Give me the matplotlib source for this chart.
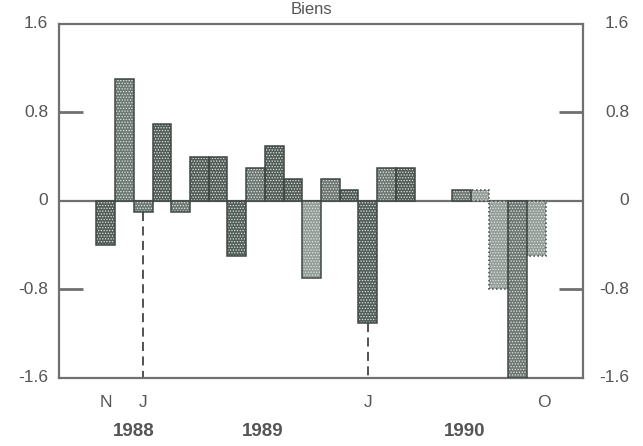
"""Biens: monthly bars, Nov 1987 onwards, with left/right value axes."""

import matplotlib
matplotlib.use("Agg")
import matplotlib.pyplot as plt

plt.rcParams["font.family"] = ["Liberation Sans", "DejaVu Sans"]
plt.rcParams["hatch.linewidth"] = 0.6

# --- data ---
values = [-0.4, 1.1, -0.1, 0.7, -0.1, 0.4, 0.4, -0.5, 0.3, 0.5, 0.2, -0.7,
          0.2, 0.1, -1.1, 0.3, 0.3, 0.0, 0.0, 0.1, 0.1, -0.8, -1.6, -0.5]
estimated = [20, 21, 23]                     # bars drawn with dotted outline
month_pos = [0, 2, 14, 23.4]
month_labels = ["N", "J", "J", "O"]
year_pos = [1.5, 8.4, 19.2]
year_labels = ["1988", "1989", "1990"]
y_ticks = [1.6, 0.8, 0, -0.8, -1.6]
y_labels = ["1.6", "0.8", "0", "-0.8", "-1.6"]
dashed_at = [2, 14]

# per-bar shade (0 = light, 1 = medium, 2 = dark)
shade = [2, 1, 1, 2, 1, 2, 2, 2, 1, 2, 2, 0, 1, 2, 2, 1, 2, 1, 1, 1, 0, 0, 1, 0]
palette = {0: "#939c97", 1: "#6d7772", 2: "#525c57"}
grey = "#707070"
text_col = "#555555"

fig = plt.figure(figsize=(6.43, 4.46), dpi=100)
ax = fig.add_axes([0.0918, 0.1525, 0.8149, 0.7937])

x = list(range(len(values)))
for i, v in zip(x, values):
    if v == 0:
        continue
    # fill with fine light dots
    ax.bar(i, v, width=1.0, color=palette[shade[i]], edgecolor="#dfe5e2",
           hatch="......", linewidth=0, zorder=2)
    ls = ":" if i in estimated else "-"
    ax.bar(i, v, width=1.0, fill=False, edgecolor="#3f4844",
           linewidth=1.1, linestyle=ls, zorder=3)

ax.axhline(0, color=grey, linewidth=1.6, zorder=1)

for i in dashed_at:
    ax.plot([i, i], [values[i], -1.6], color="#444444", linewidth=1.3,
            linestyle=(0, (5, 3)), zorder=1)

ax.set_xlim(-2.5, 25.5)
ax.set_ylim(-1.6, 1.6)

for s in ax.spines.values():
    s.set_color(grey)
    s.set_linewidth(1.6)

# inward ticks at +/-0.8 on both sides
ax.set_yticks([0.8, -0.8])
ax.tick_params(axis="y", direction="in", length=17, width=2, color=grey,
               left=True, right=True, labelleft=False)
ax.set_xticks([])

tr = ax.get_yaxis_transform()
for yv, lab in zip(y_ticks, y_labels):
    ax.text(-0.021, yv, lab, transform=tr, ha="right", va="center",
            fontsize=12.5, color=text_col)
    ax.text(1.088, yv, lab, transform=tr, ha="right", va="center",
            fontsize=12.5, color=text_col)

xt = ax.get_xaxis_transform()
for xv, lab in zip(month_pos, month_labels):
    ax.text(xv, -0.07, lab, transform=xt, ha="center", va="center",
            fontsize=12.5, color=text_col)
for xv, lab in zip(year_pos, year_labels):
    ax.text(xv, -0.151, lab, transform=xt, ha="center", va="center",
            fontsize=13.5, fontweight="bold", color=text_col)

fig.text(0.484, 0.978, "Biens", ha="center", va="center",
         fontsize=12, color=text_col)

fig.savefig("out.png", dpi=100, facecolor="white")
